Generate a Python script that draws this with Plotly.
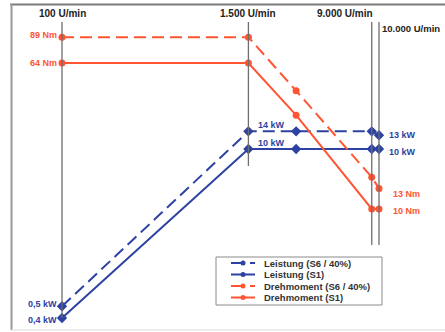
import math
import plotly.graph_objects as go

# ---- data ----
rpm = [100, 1500, 3000, 9000, 10000]
power_s6 = [0.5, 14, 14, 14, 13]      # kW
power_s1 = [0.4, 10, 10, 10, 10]      # kW
torque_s6 = [89, 89, 45, 15, 13]      # Nm
torque_s1 = [64, 64, 33, 10, 10]      # Nm
speed_marks = [100, 1500, 9000, 10000]
speed_labels = ["100 U/min", "1.500 U/min", "9.000 U/min", "10.000 U/min"]
series_names = ["Leistung (S6 / 40%)", "Leistung (S1)", "Drehmoment (S6 / 40%)", "Drehmoment (S1)"]

BLUE = "#2d42a2"
RED = "#ff5533"
FONT = "Liberation Sans"
DASH = "12px,6px"

W, H = 445, 332
L, R, T, B = 11, 441, 5, 330


def px(p):
    return (p - L) / (R - L)


def py(p):
    return (B - p) / (B - T)


def fmt(v):
    return str(v).replace(".", ",")


fig = go.Figure()

fig.add_trace(go.Scatter(x=rpm, y=power_s6, mode="lines+markers", name=series_names[0],
                         line=dict(color=BLUE, width=2, dash=DASH),
                         marker=dict(symbol="diamond", size=8, color=BLUE), yaxis="y"))
fig.add_trace(go.Scatter(x=rpm, y=power_s1, mode="lines+markers", name=series_names[1],
                         line=dict(color=BLUE, width=2),
                         marker=dict(symbol="diamond", size=8, color=BLUE), yaxis="y"))
fig.add_trace(go.Scatter(x=rpm, y=torque_s6, mode="lines+markers", name=series_names[2],
                         line=dict(color=RED, width=2, dash=DASH),
                         marker=dict(symbol="circle", size=7, color=RED), yaxis="y2"))
fig.add_trace(go.Scatter(x=rpm, y=torque_s1, mode="lines+markers", name=series_names[3],
                         line=dict(color=RED, width=2),
                         marker=dict(symbol="circle", size=7, color=RED), yaxis="y2"))

shapes = []
# frame
shapes.append(dict(type="line", xref="paper", yref="paper", x0=px(10), x1=px(446), y0=py(4.5), y1=py(4.5),
                   line=dict(color="#7a7a7a", width=2)))
shapes.append(dict(type="line", xref="paper", yref="paper", x0=px(11.5), x1=px(11.5), y0=py(4), y1=py(330),
                   line=dict(color="#9a9a9a", width=2)))
shapes.append(dict(type="line", xref="paper", yref="paper", x0=px(11), x1=px(446), y0=py(330), y1=py(330),
                   line=dict(color="#d8d8d8", width=1)))

# speed marker lines (x from data, vertical extents in paper)
line_bottoms = [318, 166, 245, 245]
for s, bot in zip(speed_marks, line_bottoms):
    shapes.append(dict(type="line", xref="x", yref="paper", x0=s, x1=s, y0=py(22), y1=py(bot),
                       line=dict(color="#6e6e6e", width=1.3)))

# custom legend box
shapes.append(dict(type="rect", xref="paper", yref="paper", x0=px(216), x1=px(382), y0=py(305), y1=py(257),
                   line=dict(color="#8a8a8a", width=1), fillcolor="white"))
leg_rows = [263, 274.5, 286, 297.5]
leg_colors = [BLUE, BLUE, RED, RED]
leg_dash = [True, False, True, False]
for yy, c, d in zip(leg_rows, leg_colors, leg_dash):
    if d:
        shapes.append(dict(type="line", xref="paper", yref="paper", x0=px(231), x1=px(245), y0=py(yy), y1=py(yy),
                           line=dict(color=c, width=2)))
        shapes.append(dict(type="line", xref="paper", yref="paper", x0=px(250), x1=px(255), y0=py(yy), y1=py(yy),
                           line=dict(color=c, width=2)))
    else:
        shapes.append(dict(type="line", xref="paper", yref="paper", x0=px(231), x1=px(255), y0=py(yy), y1=py(yy),
                           line=dict(color=c, width=2)))
    shapes.append(dict(type="circle", xref="paper", yref="paper", x0=px(240.5), x1=px(245.5),
                       y0=py(yy + 2.5), y1=py(yy - 2.5), line=dict(color=c, width=0), fillcolor=c))

ann = []
lab_font = dict(family=FONT, size=10, color="#222222", weight="bold")
# speed labels
ann.append(dict(x=math.log10(speed_marks[0]), y=py(14), xref="x", yref="paper", text=speed_labels[0],
                showarrow=False, xanchor="center", yanchor="middle", font=lab_font))
ann.append(dict(x=math.log10(speed_marks[1]), y=py(14), xref="x", yref="paper", text=speed_labels[1],
                showarrow=False, xanchor="center", yanchor="middle", font=lab_font))
ann.append(dict(x=math.log10(speed_marks[2]), y=py(14), xref="x", yref="paper", text=speed_labels[2],
                showarrow=False, xanchor="right", yanchor="middle", xshift=3, font=lab_font))
ann.append(dict(x=math.log10(speed_marks[3]), y=py(28), xref="x", yref="paper", text=speed_labels[3],
                showarrow=False, xanchor="left", yanchor="middle", xshift=1,
                font=dict(family=FONT, size=9.5, color="#222222", weight="bold")))

bfont = dict(family=FONT, size=9, color=BLUE, weight="bold")
rfont = dict(family=FONT, size=9, color=RED, weight="bold")


def pt_label(xv, yv, axis, text, font, xanchor, xshift, yshift):
    ann.append(dict(x=math.log10(xv), y=math.log10(yv), xref="x", yref=axis, text=text, showarrow=False,
                    xanchor=xanchor, yanchor="middle", xshift=xshift, yshift=yshift, font=font))


pt_label(rpm[0], torque_s6[0], "y2", f"{fmt(torque_s6[0])} Nm", rfont, "right", -3, 2)
pt_label(rpm[0], torque_s1[0], "y2", f"{fmt(torque_s1[0])} Nm", rfont, "right", -3, 0)
pt_label(rpm[0], power_s6[0], "y", f"{fmt(power_s6[0])} kW", bfont, "right", -3, 2)
pt_label(rpm[0], power_s1[0], "y", f"{fmt(power_s1[0])} kW", bfont, "right", -3, -2)
pt_label(rpm[1], power_s6[1], "y", f"{fmt(power_s6[1])} kW", bfont, "left", 8, 6)
pt_label(rpm[1], power_s1[1], "y", f"{fmt(power_s1[1])} kW", bfont, "left", 8, 6)
pt_label(rpm[4], power_s6[4], "y", f"{fmt(power_s6[4])} kW", bfont, "left", 8, 0)
pt_label(rpm[4], power_s1[4], "y", f"{fmt(power_s1[4])} kW", bfont, "left", 8, -3)
pt_label(rpm[4], torque_s6[4], "y2", f"{fmt(torque_s6[4])} Nm", rfont, "left", 12, -6)
pt_label(rpm[4], torque_s1[4], "y2", f"{fmt(torque_s1[4])} Nm", rfont, "left", 12, -2)

# legend texts
leg_font = dict(family=FONT, size=9.5, color="#333333", weight="bold")
for yy, name in zip(leg_rows, series_names):
    ann.append(dict(x=px(262), y=py(yy), xref="paper", yref="paper", text=name, showarrow=False,
                    xanchor="left", yanchor="middle", font=leg_font))

# axis ranges (log units)
xpd = 158.5
x_lo = 2 - (62 - L) / xpd
x_hi = 2 + (R - 62) / xpd
p_pd = 120.9
p_hi = 1 + (149 - T) / p_pd
p_lo = 1 - (B - 149) / p_pd
t_pd = 181.0
t_hi = 1 + (209 - T) / t_pd
t_lo = 1 - (B - 209) / t_pd

fig.update_layout(
    width=W, height=H,
    margin=dict(l=L, r=W - R, t=T, b=H - B),
    paper_bgcolor="white", plot_bgcolor="white",
    showlegend=False,
    hovermode=False,
    xaxis=dict(type="log", range=[x_lo, x_hi], visible=False),
    yaxis=dict(type="log", range=[p_lo, p_hi], visible=False),
    yaxis2=dict(type="log", range=[t_lo, t_hi], visible=False, overlaying="y"),
    shapes=shapes,
    annotations=ann,
)

fig.write_html("out.html", config={"displayModeBar": False},
               post_script="document.body.style.margin='0';document.body.style.overflow='hidden';")
